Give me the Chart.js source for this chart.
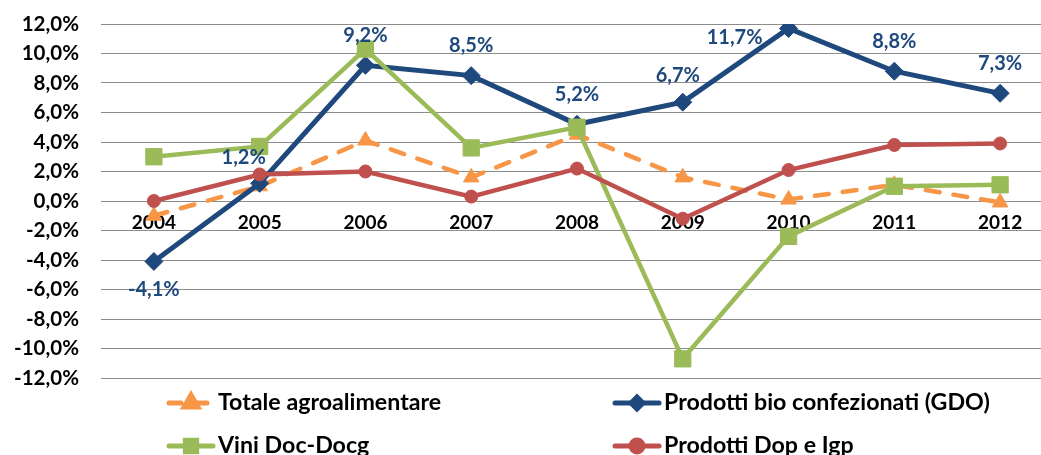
<!DOCTYPE html>
<html>
<head>
<meta charset="utf-8">
<script src="https://cdn.jsdelivr.net/npm/chart.js@4/dist/chart.umd.min.js"></script>
<style>
    html, body { margin: 0; padding: 0; background: #fff; overflow: hidden; }
    #chart { display: block; }
</style>
</head>
<body>
<canvas id="chart" width="1053" height="455"></canvas>
<script>
const years = ['2004', '2005', '2006', '2007', '2008', '2009', '2010', '2011', '2012']
const totaleAgro = [-1.0, 1.0, 4.1, 1.6, 4.5, 1.6, 0.1, 1.1, -0.1]
const prodottiBio = [-4.1, 1.2, 9.2, 8.5, 5.2, 6.7, 11.7, 8.8, 7.3]
const viniDoc = [3.0, 3.7, 10.3, 3.6, 5.0, -10.7, -2.4, 1.0, 1.1]
const prodottiDop = [0.0, 1.8, 2.0, 0.3, 2.2, -1.2, 2.1, 3.8, 3.9]
const yTicks = [-12, -10, -8, -6, -4, -2, 0, 2, 4, 6, 8, 10, 12]

const FONT = 'Lato, "Open Sans", sans-serif'
const colors = {
    orange: '#F79646',
    blue: '#1F497D',
    green: '#9BBB59',
    red: '#C0504D',
}

function formatPercent(value) {
    return `${Number(value).toFixed(1).replace('.', ',')}%`
}

// Excel style labels on the bio series
const bioLabels = {
    id: 'bioLabels',
    afterDatasetsDraw(chart) {
        const meta = chart.getDatasetMeta(1)
        const ctx = chart.ctx
        ctx.save()
        ctx.font = `bold 20px ${FONT}`
        ctx.fillStyle = colors.blue
        ctx.textBaseline = 'middle'
        meta.data.forEach((point, i) => {
            const value = prodottiBio[i]
            let x = point.x
            let y = point.y - 30
            ctx.textAlign = 'center'
            if (value < 0) y = point.y + 28
            if (i === 1) { x -= 16; y = point.y - 26 }
            if (i === 5) { x -= 5; y = point.y - 27 }
            if (i === 6) { ctx.textAlign = 'right'; x -= 26; y = point.y + 9 }
            ctx.fillText(formatPercent(value), x, y)
        })
        ctx.restore()
    },
}

// legend in two columns, line + marker like Excel
const excelLegend = {
    id: 'excelLegend',
    afterDraw(chart) {
        const ctx = chart.ctx
        const items = [
            { ds: 0, x: 167, y: 403 },
            { ds: 1, x: 613, y: 403 },
            { ds: 2, x: 167, y: 446 },
            { ds: 3, x: 613, y: 446 },
        ]
        ctx.save()
        items.forEach(item => {
            const ds = chart.data.datasets[item.ds]
            const w = 48
            ctx.strokeStyle = ds.borderColor
            ctx.lineWidth = 5
            ctx.lineCap = 'round'
            ctx.setLineDash(ds.borderDash ? [12, 14] : [])
            ctx.beginPath()
            ctx.moveTo(item.x + 2, item.y)
            ctx.lineTo(item.x + w - 2, item.y)
            ctx.stroke()
            ctx.setLineDash([])
            ctx.fillStyle = ds.pointBackgroundColor
            ctx.strokeStyle = ds.pointBorderColor
            Chart.helpers.drawPoint(ctx, {
                pointStyle: ds.pointStyle,
                radius: ds.legendRadius,
                borderWidth: 1,
                rotation: 0,
            }, item.x + w / 2, item.y)
            ctx.fillStyle = '#000'
            ctx.font = `bold 23.2px ${FONT}`
            ctx.textAlign = 'left'
            ctx.textBaseline = 'middle'
            ctx.fillText(ds.label, item.x + w + 3, item.y)
        })
        ctx.restore()
    },
}

new Chart(document.getElementById('chart'), {
    type: 'line',
    data: {
        labels: years,
        datasets: [
            {
                label: 'Totale agroalimentare',
                data: totaleAgro,
                borderColor: colors.orange,
                borderWidth: 4.5,
                borderDash: [14, 14],
                borderCapStyle: 'round',
                pointStyle: 'triangle',
                pointRadius: 9,
                legendRadius: 8,
                pointBackgroundColor: colors.orange,
                pointBorderColor: colors.orange,
                pointBorderWidth: 1,
                order: 4,
            },
            {
                label: 'Prodotti bio confezionati (GDO)',
                data: prodottiBio,
                borderColor: colors.blue,
                borderWidth: 5,
                pointStyle: 'rectRot',
                pointRadius: 9,
                legendRadius: 6,
                pointBackgroundColor: colors.blue,
                pointBorderColor: colors.blue,
                pointBorderWidth: 1,
                order: 3,
            },
            {
                label: 'Vini Doc-Docg',
                data: viniDoc,
                borderColor: colors.green,
                borderWidth: 4.5,
                pointStyle: 'rect',
                pointRadius: 11.5,
                legendRadius: 8,
                pointBackgroundColor: colors.green,
                pointBorderColor: colors.green,
                pointBorderWidth: 1,
                order: 2,
            },
            {
                label: 'Prodotti Dop e Igp',
                data: prodottiDop,
                borderColor: colors.red,
                borderWidth: 4.5,
                pointStyle: 'circle',
                pointRadius: 6.5,
                legendRadius: 6,
                pointBackgroundColor: colors.red,
                pointBorderColor: colors.red,
                pointBorderWidth: 1,
                order: 1,
            },
        ],
    },
    options: {
        responsive: false,
        animation: false,
        events: [],
        layout: { autoPadding: false, padding: { top: 24, bottom: 77, left: 0, right: 0 } },
        plugins: {
            legend: { display: false },
            tooltip: { enabled: false },
        },
        scales: {
            x: {
                position: { y: 0 },
                offset: true,
                afterFit: scale => { scale.paddingLeft = 0; scale.paddingRight = 0 },
                grid: { display: false, drawTicks: false },
                border: { display: false },
                ticks: {
                    color: '#000',
                    padding: 10,
                    maxRotation: 0,
                    font: { family: FONT, size: 19, weight: 'bold' },
                },
            },
            y: {
                min: -12,
                max: 12,
                afterBuildTicks: scale => { scale.ticks = yTicks.map(value => ({ value })) },
                afterFit: scale => {
                    scale.width = 101
                    scale.paddingTop = 0
                    scale.paddingBottom = 0
                },
                grid: { color: '#8C8C8C', lineWidth: 1, drawTicks: false },
                border: { display: false },
                ticks: {
                    color: '#000',
                    padding: 22,
                    font: { family: FONT, size: 20.5, weight: 'bold' },
                    callback: value => formatPercent(value),
                },
            },
        },
    },
    plugins: [bioLabels, excelLegend],
})
</script>
</body>
</html>
